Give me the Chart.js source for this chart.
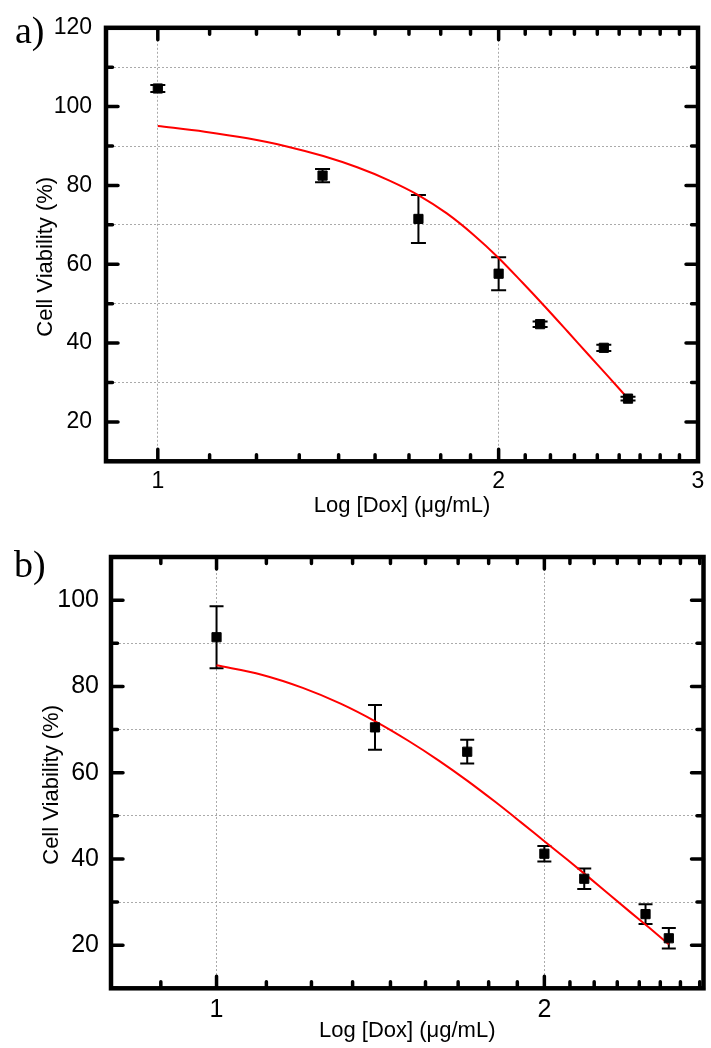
<!DOCTYPE html>
<html>
<head>
<meta charset="utf-8">
<script src="https://cdn.jsdelivr.net/npm/chart.js@4.4.1/dist/chart.umd.min.js"></script>
<style>
  body { margin: 0; background: #fff; }
  canvas { position: absolute; left: 0; }
  #chartA { top: 0; }
  #chartB { top: 530px; }
</style>
</head>
<body>
<canvas id="chartA" width="711" height="530"></canvas>
<canvas id="chartB" width="711" height="518"></canvas>
<script>
// a) ---------------------------------------------------------------------------
const doseA = [1, 1.398, 1.699, 2, 2.176, 2.477, 2.602];
const viabilityA = [104.6, 82.5, 71.5, 57.6, 44.8, 38.8, 25.9];
const errorA = [0.9, 1.7, 6.1, 4.2, 0.7, 0.8, 0.5];
const fitDoseA = [1, 1.1, 1.2, 1.3, 1.4, 1.5, 1.6, 1.7, 1.8, 1.9, 2, 2.1, 2.2, 2.3, 2.4, 2.5, 2.602];
const fitViabilityA = [95.1, 93.65, 91.95, 89.9, 87.45, 84.6, 81.3, 77.5, 72.9, 67.5, 61.6, 55.3, 49.1, 43.0, 37.1, 31.5, 25.9];

// b) ---------------------------------------------------------------------------
const doseB = [1, 1.398, 1.699, 2, 2.176, 2.477, 2.602];
const viabilityB = [91.4, 70.5, 64.85, 41.2, 35.4, 27.2, 21.6];
const errorB = [7.2, 5.2, 2.75, 1.8, 2.4, 2.3, 2.4];
const fitDoseB = [1, 1.1, 1.2, 1.3, 1.4, 1.5, 1.6, 1.7, 1.8, 1.9, 2, 2.1, 2.2, 2.3, 2.4, 2.5, 2.602];
const fitViabilityB = [84.9, 82.7, 79.65, 76.0, 71.85, 67.4, 62.8, 58.1, 53.35, 48.65, 44.1, 39.8, 35.6, 31.5, 27.6, 23.9, 20.2];

// axes -------------------------------------------------------------------------
const xLabels = [1, 2, 3];
const yLabels = [20, 40, 60, 80, 100, 120];

const sans = "'Liberation Sans', Arial, sans-serif";

// Origin style log axis: 8 minor ticks between majors, equal value steps
function logTicks(lo, hi) {
  const out = [];
  for (let m = Math.floor(lo); m <= Math.floor(hi); m++) {
    for (let k = 0; k < 9; k++) {
      const v = m + k / 9;
      if (v >= lo - 1e-9 && v <= hi + 1e-9) out.push(v);
    }
  }
  return out;
}

const originPlugin = {
  id: "origin",
  beforeDatasetsDraw(chart, args, opts) {
    const ctx = chart.ctx;
    const xs = chart.scales.x, ys = chart.scales.y;
    ctx.save();
    ctx.strokeStyle = "#000";
    ctx.lineWidth = 2;
    opts.dose.forEach((d, i) => {
      const px = xs.getPixelForValue(d);
      const top = ys.getPixelForValue(opts.value[i] + opts.err[i]);
      const bot = ys.getPixelForValue(opts.value[i] - opts.err[i]);
      const w = opts.cap / 2;
      ctx.beginPath();
      ctx.moveTo(px, top); ctx.lineTo(px, bot);
      ctx.moveTo(px - w, top); ctx.lineTo(px + w, top);
      ctx.moveTo(px - w, bot); ctx.lineTo(px + w, bot);
      ctx.stroke();
    });
    ctx.restore();
  },
  afterDraw(chart, args, opts) {
    const ctx = chart.ctx;
    const a = chart.chartArea;
    const xs = chart.scales.x, ys = chart.scales.y;
    ctx.save();
    ctx.strokeStyle = "#000";
    ctx.lineCap = "round";
    ctx.lineWidth = 3.5;
    ctx.beginPath();
    xs.ticks.forEach(t => {
      const p = xs.getPixelForValue(t.value);
      const len = Number.isInteger(t.value) ? 12 : 6.5;
      ctx.moveTo(p, a.bottom); ctx.lineTo(p, a.bottom - len);
      ctx.moveTo(p, a.top); ctx.lineTo(p, a.top + len);
    });
    ys.ticks.forEach(t => {
      const p = ys.getPixelForValue(t.value);
      const len = t.value % 20 === 0 ? 12 : 6.5;
      ctx.moveTo(a.left, p); ctx.lineTo(a.left + len, p);
      ctx.moveTo(a.right, p); ctx.lineTo(a.right - len, p);
    });
    ctx.stroke();
    ctx.lineCap = "square";
    ctx.lineWidth = 4.5;
    ctx.strokeRect(a.left, a.top, a.right - a.left, a.bottom - a.top);
    ctx.fillStyle = "#000";
    ctx.font = "38px 'Liberation Serif', serif";
    ctx.textBaseline = "alphabetic";
    ctx.fillText(opts.panel, opts.panelX, opts.panelY);
    ctx.restore();
  },
};

function makeChart(id, cfg) {
  const xTicks = logTicks(cfg.xMin, cfg.xMax);
  return new Chart(document.getElementById(id), {
    type: "scatter",
    data: {
      datasets: [
        {
          label: "fit",
          data: cfg.fitDose.map((d, i) => ({ x: d, y: cfg.fitValue[i] })),
          showLine: true,
          borderColor: "#ff0000",
          borderWidth: 2,
          pointRadius: 0,
          cubicInterpolationMode: "monotone",
          order: 1,
        },
        {
          label: "data",
          data: cfg.dose.map((d, i) => ({ x: d, y: cfg.value[i] })),
          pointStyle: "rect",
          pointRadius: 6.5,
          backgroundColor: "#000",
          borderColor: "#000",
          borderWidth: 1,
          order: 0,
        },
      ],
    },
    options: {
      responsive: false,
      animation: false,
      layout: { padding: { left: 0, top: cfg.top, right: cfg.right, bottom: 0 } },
      scales: {
        x: {
          type: "logarithmic",
          min: cfg.xMin,
          max: cfg.xMax,
          afterBuildTicks: s => { s.ticks = xTicks.map(v => ({ value: v })); },
          afterFit: s => { s.height = cfg.xHeight; },
          ticks: {
            autoSkip: false,
            maxRotation: 0,
            padding: cfg.xTickPad,
            color: "#000",
            font: { family: sans, size: cfg.tickSize },
            callback: v => (xLabels.includes(v) ? String(v) : ""),
          },
          grid: {
            drawTicks: false,
            lineWidth: 1,
            color: c => (c.tick && Number.isInteger(c.tick.value) && c.tick.value < 3 ? "#aaaaaa" : "rgba(0,0,0,0)"),
          },
          border: { display: false, dash: [2, 2] },
          title: {
            display: true,
            text: "Log [Dox] (μg/mL)",
            color: "#000",
            font: { family: sans, size: 22 },
            padding: { top: 0, bottom: cfg.xTitlePad },
          },
        },
        y: {
          min: 10,
          max: cfg.yMax,
          afterFit: s => { s.width = cfg.left; },
          ticks: {
            stepSize: 10,
            padding: cfg.yTickPad,
            color: "#000",
            font: { family: sans, size: cfg.tickSize },
            callback: v => (yLabels.includes(v) ? String(v) : ""),
          },
          grid: {
            drawTicks: false,
            lineWidth: 1,
            color: c => (c.tick && c.tick.value % 20 === 10 && c.tick.value > 10 ? "#aaaaaa" : "rgba(0,0,0,0)"),
          },
          border: { display: false, dash: [2, 2] },
          title: {
            display: true,
            // trailing spaces push the label a little below the axis centre, as in the original
            text: "Cell Viability (%)    ",
            color: "#000",
            font: { family: sans, size: 22 },
            padding: { top: cfg.yTitlePad, bottom: 0 },
          },
        },
      },
      plugins: {
        legend: { display: false },
        tooltip: { enabled: false },
        origin: {
          dose: cfg.dose, value: cfg.value, err: cfg.err, cap: cfg.cap,
          panel: cfg.panel, panelX: cfg.panelX, panelY: cfg.panelY,
        },
      },
    },
    plugins: [originPlugin],
  });
}

makeChart("chartA", {
  dose: doseA, value: viabilityA, err: errorA,
  fitDose: fitDoseA, fitValue: fitViabilityA,
  xMin: 0.9, xMax: 3, yMax: 120,
  left: 106, right: 9, top: 20.5, xHeight: 68.7,
  tickSize: 23, xTickPad: 6.6, yTickPad: 14, xTitlePad: 10.8, yTitlePad: 32.8,
  cap: 15, panel: "a)", panelX: 15, panelY: 43,
});

makeChart("chartB", {
  dose: doseB, value: viabilityB, err: errorB,
  fitDose: fitDoseB, fitValue: fitViabilityB,
  xMin: 0.8, xMax: 2.8, yMax: 110,
  left: 111, right: 6, top: 19, xHeight: 59.7,
  tickSize: 25, xTickPad: 6.7, yTickPad: 12, xTitlePad: 4.3, yTitlePad: 38.5,
  cap: 14, panel: "b)", panelX: 14, panelY: 47,
});
</script>
</body>
</html>
